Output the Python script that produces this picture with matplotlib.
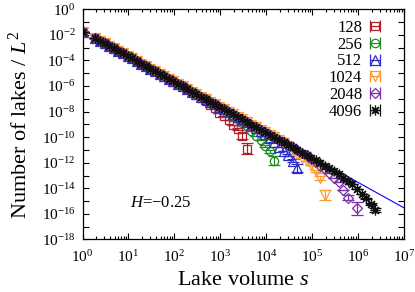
import numpy as np
import matplotlib.pyplot as plt
from matplotlib.ticker import FixedLocator, FuncFormatter, LogLocator, NullFormatter, NullLocator
from matplotlib.legend_handler import HandlerErrorbar

plt.rcParams['font.family'] = 'Liberation Serif'
plt.rcParams['mathtext.fontset'] = 'custom'
plt.rcParams['mathtext.rm'] = 'Liberation Serif'
plt.rcParams['mathtext.it'] = 'Liberation Serif:italic'

# log10 of lake volume (bin centres)
log_s = [0.0, 0.28, 0.38, 0.48, 0.58, 0.68, 0.78, 0.88, 0.98, 1.08, 1.18,
         1.28, 1.38, 1.48, 1.58, 1.68, 1.78, 1.88, 1.98, 2.08, 2.18,
         2.28, 2.38, 2.48, 2.58, 2.68, 2.78, 2.88, 2.98, 3.08, 3.18,
         3.28, 3.38, 3.48, 3.58, 3.68, 3.78, 3.88, 3.98, 4.08, 4.18,
         4.28, 4.38, 4.48, 4.58, 4.68, 4.78, 4.88, 4.98, 5.08, 5.18,
         5.28, 5.38, 5.48, 5.58, 5.68, 5.78, 5.88, 5.98, 6.08, 6.18,
         6.28, 6.38]

# log10(number of lakes / L^2), collapsed part shared by all sizes
bulk = [-1.74, -2.25, -2.45, -2.65, -2.85, -3.05, -3.24, -3.44, -3.64, -3.84, -4.04,
        -4.24, -4.44, -4.64, -4.84, -5.03, -5.23, -5.43, -5.63, -5.83, -6.03,
        -6.23, -6.43, -6.63, -6.82, -7.02, -7.22, -7.42, -7.62, -7.82, -8.02,
        -8.22, -8.42, -8.61, -8.81, -9.01, -9.21, -9.41, -9.61, -9.81, -10.01,
        -10.21, -10.40, -10.60, -10.80, -11.00, -11.20, -11.40, -11.60, -11.80, -12.00,
        -12.19, -12.39, -12.59, -12.79, -12.99, -13.19, -13.39, -13.59, -13.79, -13.98,
        -14.18, -14.38]

sizes = ['128', '256', '512', '1024', '2048', '4096']
n_points = [35, 41, 46, 52, 59, 63]

# finite size cut-off parts (replace the end of bulk)
tail_128 = [-5.07, -5.27, -5.47, -5.67, -5.87, -6.07, -6.27, -6.47,
            -6.68, -6.92, -7.17, -7.47, -7.74, -8.07, -8.37, -8.67, -9.02, -9.37, -9.91, -10.91]
tail_256 = [-8.07, -8.32, -8.57, -8.86, -9.16, -9.51, -9.89, -10.26, -10.71, -11.11, -11.86]
tail_512 = [-9.26, -9.51, -9.76, -10.06, -10.39, -10.76, -11.05, -11.38, -11.85, -12.41]
tail_1024 = [-10.45, -10.70, -10.98, -11.28, -11.60, -11.90, -12.20, -12.65, -13.20, -14.50]
tail_2048 = [-11.70, -11.95, -12.22, -12.51, -12.84, -13.17, -13.54, -14.14, -14.72, np.nan, -15.57]
tail_4096 = [-12.22, -12.44, -12.67, -12.91, -13.16, -13.42, -13.67, -14.05, -14.41, -14.78, -15.23, -15.68]
tails = [tail_128, tail_256, tail_512, tail_1024, tail_2048, tail_4096]

# error bars (in decades) of the last points
err_128 = [0.06, 0.2, 0.42]
err_256 = [0.06, 0.12, 0.35]
err_512 = [0.06, 0.12, 0.3]
err_1024 = [0.08, 0.15, 0.38]
err_2048 = [0.2, 0.0, 0.48]
err_4096 = [0.06, 0.1, 0.15]
errs = [err_128, err_256, err_512, err_1024, err_2048, err_4096]

# power law fit
fit_log_amp = -1.59
fit_slope = -1.99

colors = ['#b0202a', '#1f8a1f', '#2c2cc8', '#ff9a30', '#7a2fa8', '#101010']
markers = ['s', 'o', '^', 'v', 'D', (8, 2, 0)]
msizes = [6, 6, 6.5, 6.5, 5.2, 7]

fig = plt.figure(figsize=(4.15, 2.92), dpi=100)
ax = fig.add_axes([0.199, 0.180, 0.774, 0.788])

handles = []
for lab, n, tail, err, c, m, ms in zip(sizes, n_points, tails, errs, colors, markers, msizes):
    ly = np.array(bulk[:n - len(tail)] + tail)
    x = 10 ** np.array(log_s[:n])
    y = 10 ** ly
    e = np.zeros(n)
    e[n - len(err):] = err
    lo = y - y * 10 ** (-e)
    hi = y * 10 ** e - y
    style = dict(linestyle='none', marker=m, ms=ms, mfc='none', mec=c, mew=0.9,
                 ecolor=c, elinewidth=0.9, capsize=4.5, capthick=0.9)
    ax.errorbar(x, y, yerr=[lo, hi], **style)
    h = ax.errorbar([np.nan], [np.nan], xerr=[1], **style)
    handles.append(h)

sf = np.array([1.0, 1e7])
ax.plot(sf, 10 ** fit_log_amp * sf ** fit_slope, color='#0000ff', lw=0.8)

ax.set_xscale('log')
ax.set_yscale('log')
ax.set_xlim(1, 1e7)
ax.set_ylim(1e-18, 1)

ax.xaxis.set_major_locator(FixedLocator(10.0 ** np.arange(0, 8)))
ax.xaxis.set_major_formatter(FuncFormatter(lambda v, p: r'$10^{%d}$' % round(np.log10(v))))
ax.xaxis.set_minor_locator(LogLocator(base=10, subs=np.arange(2, 10), numticks=20))
ax.xaxis.set_minor_formatter(NullFormatter())

ax.yaxis.set_major_locator(FixedLocator(10.0 ** np.arange(-18, 1)))
ax.yaxis.set_major_formatter(FuncFormatter(
    lambda v, p: r'$10^{%d}$' % round(np.log10(v)) if round(np.log10(v)) % 2 == 0 else ''))
ax.yaxis.set_minor_locator(NullLocator())

ax.tick_params(which='both', direction='in', top=True, right=True, width=0.8, labelsize=11)
ax.tick_params(which='major', length=4)
ax.tick_params(which='minor', length=2)
ax.tick_params(axis='x', which='major', pad=7)
ax.tick_params(axis='y', which='major', pad=5)
for sp in ax.spines.values():
    sp.set_linewidth(0.9)

ax.set_xlabel(r'Lake volume $s$', fontsize=16, labelpad=4)
ax.set_ylabel(r'Number of lakes / $L^2$', fontsize=16, labelpad=7)

ax.text(0.147, 0.157, r'$H$=−0.25', transform=ax.transAxes, fontsize=12, va='center', ha='left')

ax.legend(handles, sizes, loc='upper right', bbox_to_anchor=(0.935, 0.955), frameon=False,
          markerfirst=False, borderpad=0, borderaxespad=0, handlelength=0.9,
          handletextpad=0.35, labelspacing=0.05, fontsize=12,
          handler_map={type(handles[0]): HandlerErrorbar(xerr_size=0.3)})

fig.savefig('out.png', dpi=100)
